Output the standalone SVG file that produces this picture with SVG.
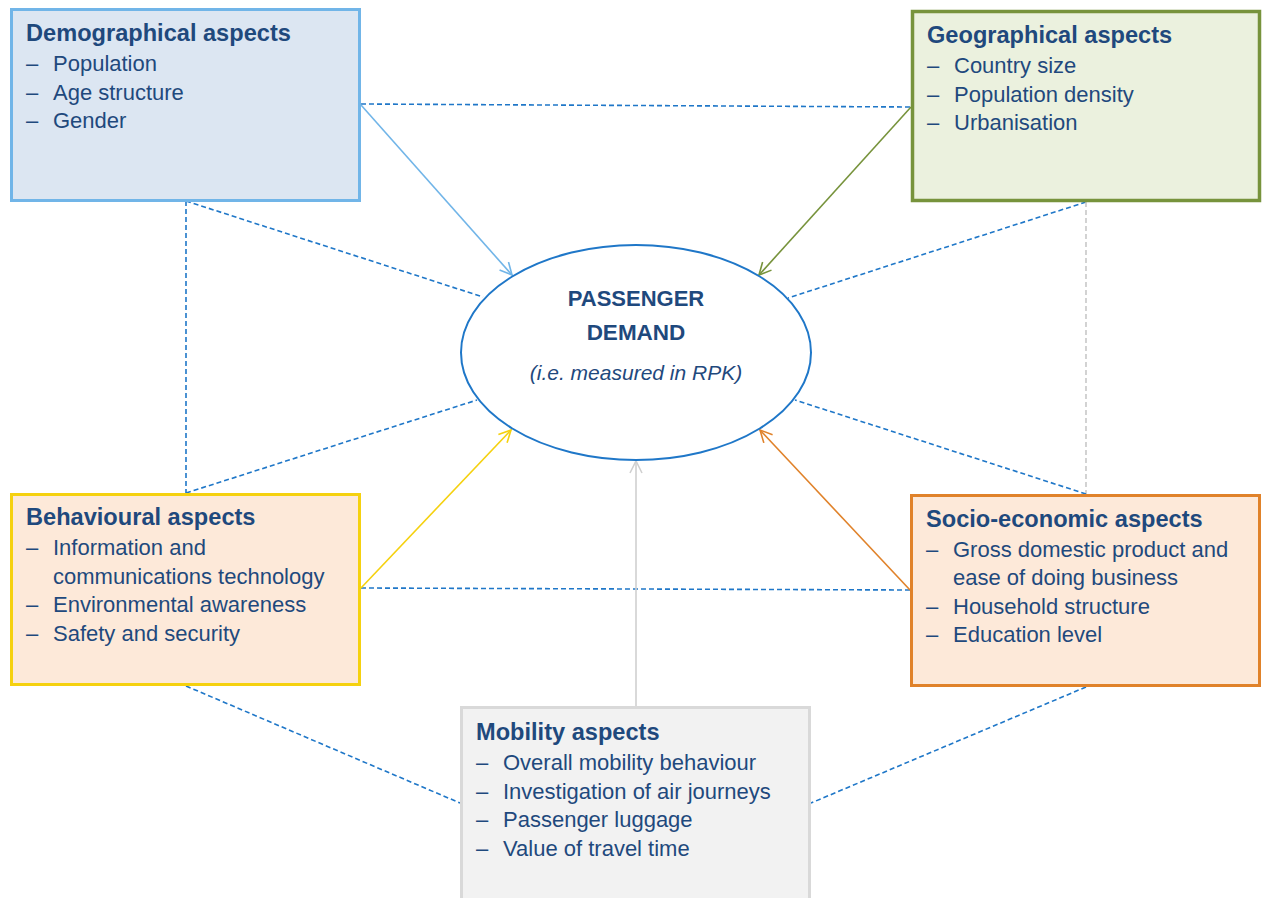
<svg xmlns="http://www.w3.org/2000/svg" width="1262" height="898" viewBox="0 0 1262 898">
<style>
.t{font-family:"Liberation Sans",Arial,sans-serif;font-weight:bold;font-size:23.6px;fill:#1f497d}
.i{font-family:"Liberation Sans",Arial,sans-serif;font-size:22px;fill:#1f497d}
.c{font-family:"Liberation Sans",Arial,sans-serif;fill:#1f497d;text-anchor:middle}
.d{fill:none;stroke:#1f77c8;stroke-width:1.6;stroke-dasharray:5 3}
.a{fill:none;stroke-width:1.6}
</style>
<defs>
<marker id="mb" viewBox="0 0 14 14" refX="13" refY="7" markerWidth="14" markerHeight="14" markerUnits="userSpaceOnUse" orient="auto"><path d="M1,1 L13,7 L1,13" fill="none" stroke="#71b5e8" stroke-width="1.6"/></marker>
<marker id="mg" viewBox="0 0 14 14" refX="13" refY="7" markerWidth="14" markerHeight="14" markerUnits="userSpaceOnUse" orient="auto"><path d="M1,1 L13,7 L1,13" fill="none" stroke="#77933c" stroke-width="1.6"/></marker>
<marker id="my" viewBox="0 0 14 14" refX="13" refY="7" markerWidth="14" markerHeight="14" markerUnits="userSpaceOnUse" orient="auto"><path d="M1,1 L13,7 L1,13" fill="none" stroke="#f5d10f" stroke-width="1.6"/></marker>
<marker id="mo" viewBox="0 0 14 14" refX="13" refY="7" markerWidth="14" markerHeight="14" markerUnits="userSpaceOnUse" orient="auto"><path d="M1,1 L13,7 L1,13" fill="none" stroke="#e0822a" stroke-width="1.6"/></marker>
<marker id="mx" viewBox="0 0 14 14" refX="13" refY="7" markerWidth="14" markerHeight="14" markerUnits="userSpaceOnUse" orient="auto"><path d="M1,1 L13,7 L1,13" fill="none" stroke="#d0d0d0" stroke-width="1.6"/></marker>
</defs>
<g id="connectors">
<line class="d" x1="361" y1="104" x2="911" y2="107"/>
<line class="d" x1="186" y1="201" x2="186" y2="493"/>
<line class="d" x1="186" y1="201" x2="483" y2="297"/>
<line class="d" x1="186" y1="493" x2="477" y2="400"/>
<line class="d" x1="1086" y1="202" x2="788" y2="298"/>
<line class="d" style="stroke:#c8c8c8" x1="1086" y1="202" x2="1086" y2="494"/>
<line class="d" x1="1086" y1="494" x2="795" y2="400"/>
<line class="d" x1="361" y1="588" x2="910" y2="590"/>
<line class="d" x1="186" y1="686" x2="460" y2="803"/>
<line class="d" x1="1086" y1="687" x2="811" y2="803"/>
<line class="a" stroke="#71b5e8" x1="361" y1="105" x2="512" y2="275" marker-end="url(#mb)"/>
<line class="a" stroke="#77933c" x1="911" y1="107" x2="759" y2="275" marker-end="url(#mg)"/>
<line class="a" stroke="#f5d10f" x1="361" y1="588" x2="511" y2="430" marker-end="url(#my)"/>
<line class="a" stroke="#e0822a" x1="910" y1="590" x2="760" y2="430" marker-end="url(#mo)"/>
<line class="a" stroke="#d0d0d0" x1="636" y1="706" x2="636" y2="461" marker-end="url(#mx)"/>
</g>
<g id="demand">
<ellipse cx="636" cy="352.5" rx="175" ry="107.5" fill="#ffffff" stroke="#1f77c8" stroke-width="2"/>
<text class="c" x="636" y="306" font-size="22" font-weight="bold">PASSENGER</text>
<text class="c" x="636" y="340" font-size="22.5" font-weight="bold">DEMAND</text>
<text class="c" x="636" y="380" font-size="21" font-style="italic">(i.e. measured in RPK)</text>
</g>
<g id="demographical">
<rect x="11.5" y="9.5" width="348" height="191" fill="#dce6f2" stroke="#71b5e8" stroke-width="3"/>
<text class="t" x="26" y="41">Demographical aspects</text>
<text class="i" x="26" y="71">–</text><text class="i" x="53" y="71">Population</text>
<text class="i" x="26" y="99.5">–</text><text class="i" x="53" y="99.5">Age structure</text>
<text class="i" x="26" y="128">–</text><text class="i" x="53" y="128">Gender</text>
</g>
<g id="geographical">
<rect x="912.5" y="11.5" width="347" height="189" fill="#ebf1de" stroke="#77933c" stroke-width="3.5"/>
<text class="t" x="927" y="43">Geographical aspects</text>
<text class="i" x="927" y="73">–</text><text class="i" x="954" y="73">Country size</text>
<text class="i" x="927" y="102">–</text><text class="i" x="954" y="102">Population density</text>
<text class="i" x="927" y="130">–</text><text class="i" x="954" y="130">Urbanisation</text>
</g>
<g id="behavioural">
<rect x="11.5" y="494.5" width="348" height="190" fill="#fde9d9" stroke="#f5d10f" stroke-width="3"/>
<text class="t" x="26" y="525">Behavioural aspects</text>
<text class="i" x="26" y="555">–</text><text class="i" x="53" y="555">Information and</text>
<text class="i" x="53" y="583.5">communications technology</text>
<text class="i" x="26" y="612">–</text><text class="i" x="53" y="612">Environmental awareness</text>
<text class="i" x="26" y="641">–</text><text class="i" x="53" y="641">Safety and security</text>
</g>
<g id="socioeconomic">
<rect x="911.5" y="495.5" width="348" height="190" fill="#fde9d9" stroke="#e0822a" stroke-width="3"/>
<text class="t" x="926" y="527">Socio-economic aspects</text>
<text class="i" x="926" y="557">–</text><text class="i" x="953" y="557">Gross domestic product and</text>
<text class="i" x="953" y="585">ease of doing business</text>
<text class="i" x="926" y="613.5">–</text><text class="i" x="953" y="613.5">Household structure</text>
<text class="i" x="926" y="642">–</text><text class="i" x="953" y="642">Education level</text>
</g>
<g id="mobility">
<rect x="461.5" y="707.5" width="348" height="220" fill="#f2f2f2" stroke="#d9d9d9" stroke-width="3"/>
<text class="t" x="476" y="740">Mobility aspects</text>
<text class="i" x="476" y="770">–</text><text class="i" x="503" y="770">Overall mobility behaviour</text>
<text class="i" x="476" y="798.5">–</text><text class="i" x="503" y="798.5">Investigation of air journeys</text>
<text class="i" x="476" y="827">–</text><text class="i" x="503" y="827">Passenger luggage</text>
<text class="i" x="476" y="855.5">–</text><text class="i" x="503" y="855.5">Value of travel time</text>
</g>
</svg>
